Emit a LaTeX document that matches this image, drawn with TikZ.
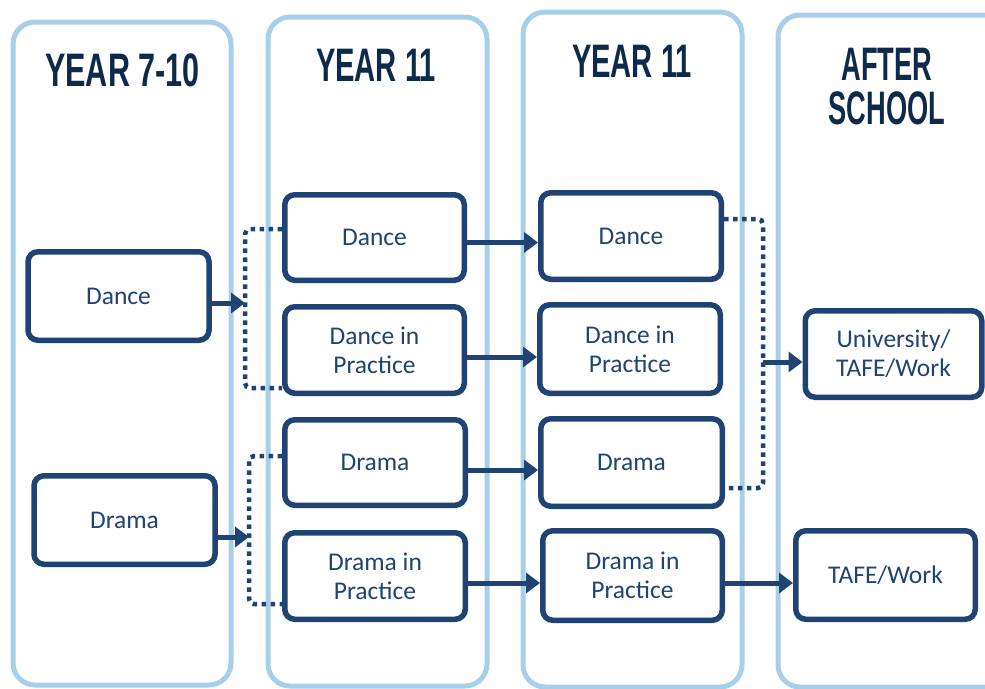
\documentclass[tikz,border=0pt]{standalone}
\usepackage{fontspec}
\setmainfont{Carlito}
\newfontfamily\headfont{Liberation Sans}
\usetikzlibrary{arrows.meta}

\definecolor{colblue}{HTML}{A8CFEA}
\definecolor{boxnavy}{HTML}{1F4372}
\definecolor{headnavy}{HTML}{0E2A4A}

\tikzset{
  column/.style={draw=colblue, line width=5pt, rounded corners=22pt, inner sep=0pt},
  stagebox/.style={draw=boxnavy, line width=5.5pt, rounded corners=10pt, fill=white,
    text=boxnavy, font=\fontsize{25.5}{29}\selectfont, align=center, inner sep=0pt},
  heading/.style={text=headnavy, font=\headfont\bfseries\fontsize{47}{54}\selectfont,
    align=center, inner sep=0pt},
  flow/.style={draw=boxnavy, line width=5pt, -{Triangle[length=14pt,width=20pt]}},
  group/.style={draw=boxnavy, line width=4.5pt, dash pattern=on 4.5pt off 4.5pt, rounded corners=5pt}
}

\newcommand{\cond}[2][0.6]{\scalebox{#1}[1]{#2}}

\begin{document}
\begin{tikzpicture}[x=1pt,y=-1pt]
\useasboundingbox (0,0) rectangle (985,688);

% stage columns
\begin{scope}
\clip (0,0) rectangle (985,688);
\node[column, minimum width=218, minimum height=663] (col1) at (122,353.5) {};
\node[column, minimum width=219, minimum height=669] (col2) at (377.5,351.5) {};
\node[column, minimum width=219, minimum height=675] (col3) at (632.5,349.5) {};
\node[column, minimum width=260, minimum height=672] (col4) at (908,351) {};
\end{scope}

% column headings
\node[heading] (h1) at (122.5,70) {\cond[0.65]{YEAR 7-10}};
\node[heading] (h2) at (376,65.5) {\cond[0.62]{YEAR 11}};
\node[heading] (h3) at (632,61) {\cond[0.62]{YEAR 11}};
\node[heading, align=center] (h4) at (887,87) {\cond[0.58]{AFTER}\\[-10pt]\cond[0.58]{SCHOOL}};

% Year 7-10
\node[stagebox, minimum width=181, minimum height=88.5] (a1) at (118.5,296) {Dance};
\node[stagebox, minimum width=181, minimum height=88.5] (a2) at (124.5,520) {Drama};

% Year 11 (first column)
\node[stagebox, minimum width=179.5, minimum height=85.5] (b1) at (374.5,237.5) {Dance};
\node[stagebox, minimum width=179.5, minimum height=86.5] (b2) at (374.5,350) {Dance in\\Practice};
\node[stagebox, minimum width=180.5, minimum height=85.5] (b3) at (375,462.5) {Drama};
\node[stagebox, minimum width=180.5, minimum height=86.5] (b4) at (375,576) {Drama in\\Practice};

% Year 11 (second column)
\node[stagebox, minimum width=180.5, minimum height=86.5] (c1) at (631,236) {Dance};
\node[stagebox, minimum width=180.5, minimum height=88.5] (c2) at (630,349) {Dance in\\Practice};
\node[stagebox, minimum width=181.5, minimum height=87.5] (c3) at (631.5,462.5) {Drama};
\node[stagebox, minimum width=179.5, minimum height=89.5] (c4) at (632.5,575.5) {Drama in\\Practice};

% After school
\node[stagebox, minimum width=176.5, minimum height=86.5] (d1) at (893.5,354) {University/\\TAFE/Work};
\node[stagebox, minimum width=179.5, minimum height=88.5] (d2) at (885.5,575) {TAFE/Work};

% grouping brackets
\coordinate (g1t) at (245,229);
\coordinate (g1b) at (245,388);
\coordinate (g1m) at (245,303);
\coordinate (g2t) at (249,456);
\coordinate (g2b) at (249,604);
\coordinate (g2m) at (249,537);
\coordinate (g3t) at (763,219);
\coordinate (g3b) at (763,488);
\coordinate (g3m) at (763,362);

\draw[group] (b1.west |- g1t) -- (g1t) -- (g1b) -- (b2.west |- g1b);
\draw[group] (b3.west |- g2t) -- (g2t) -- (g2b) -- (b4.west |- g2b);
\draw[group] (c1.east |- g3t) -- (g3t) -- (g3b) -- (c3.east |- g3b);

% progression arrows
\draw[flow] (a1.east |- g1m) -- (g1m);
\draw[flow] (a2.east |- g2m) -- (g2m);
\draw[flow] ([yshift=-5pt]b1.east) -- ([yshift=-5pt]b1.east -| c1.west);
\draw[flow] ([yshift=-7pt]b2.east) -- ([yshift=-7pt]b2.east -| c2.west);
\draw[flow] ([yshift=-7.5pt]b3.east) -- ([yshift=-7.5pt]b3.east -| c3.west);
\draw[flow] ([yshift=-7pt]b4.east) -- ([yshift=-7pt]b4.east -| c4.west);
\draw[flow] (g3m) -- (g3m -| d1.west);
\draw[flow] ([yshift=-7.5pt]c4.east) -- ([yshift=-7.5pt]c4.east -| d2.west);
\end{tikzpicture}
\end{document}
